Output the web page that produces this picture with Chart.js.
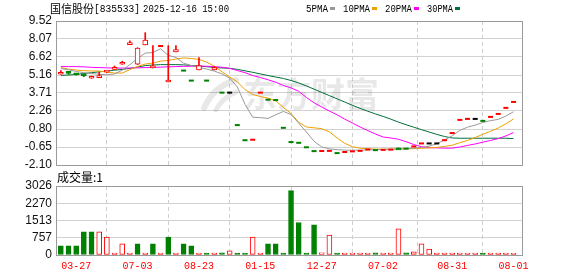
<!DOCTYPE html>
<html><head><meta charset="utf-8">
<script src="https://cdn.jsdelivr.net/npm/chart.js@4.4.1/dist/chart.umd.min.js"></script>
<style>
html,body{margin:0;padding:0;background:#fff;}
#wrap{position:relative;width:578px;height:276px;overflow:hidden;background:#fff;}
#c1{position:absolute;left:0;top:0;}
#c2{position:absolute;left:0;top:160px;}
</style></head><body>
<div id="wrap">
<canvas id="c1" width="578" height="190"></canvas>
<canvas id="c2" width="578" height="116"></canvas>
</div>
<script>
// ---------- data ----------
const stockTitle = '国信股份';
const stockCode = '[835533]';
const stockTime = '2025-12-16 15:00';
const maNames = ['5PMA', '10PMA', '20PMA', '30PMA'];
const volumeTitle = '成交量:1';
const watermarkText = '东方财富';

const xTickIndex = [2, 10, 18, 26, 34, 42, 51, 59];
const xTickLabels = ['03-27', '07-03', '08-23', '01-15', '12-27', '07-02', '08-31', '08-01'];
const priceTicks = [9.52, 8.07, 6.62, 5.16, 3.71, 2.26, 0.80, -0.65, -2.10];
const volumeTicks = [0, 757, 1513, 2270, 3026];

const prevClose = 5.45;
const openP = [5.22,5.40,5.27,5.17,4.90,4.95,5.40,5.62,6.03,7.62, 6.03,7.59,5.74,7.50,4.60,7.02,5.52,4.71,5.57,4.71,
  5.57,3.74,3.74,1.12,-0.10,-0.06,3.74,3.17,3.14,0.90, -0.25,-0.31,-0.67,-0.98,-0.97,-0.96,-1.14,-1.05,-1.00,-0.96,
  -0.85,-0.90,-0.88,-0.86,-0.72,-0.78,-0.60,-0.36,-0.36,-0.36, -0.10,0.48,1.54,1.62,1.62,1.46,1.78,2.02,2.51,2.99];
const highP = [5.52,5.42,5.28,5.18,5.08,5.38,5.50,5.89,6.27,7.92, 7.36,8.58,7.53,7.50,7.53,7.53,5.52,4.71,6.56,4.71,
  5.84,3.74,3.74,1.12,-0.10,-0.06,3.74,3.17,3.14,0.90, -0.25,-0.31,-0.67,-0.98,-0.97,-0.96,-1.14,-1.05,-1.00,-0.96,
  -0.85,-0.90,-0.88,-0.86,-0.72,-0.78,-0.60,-0.36,-0.36,-0.36, -0.10,0.48,1.54,1.62,1.62,1.46,1.78,2.02,2.51,2.99];
const lowP = [5.22,5.22,5.15,5.02,4.90,4.95,5.38,5.62,6.03,7.62, 6.00,7.59,5.74,7.50,4.60,7.02,5.52,4.71,5.57,4.71,
  5.57,3.74,3.74,1.12,-0.10,-0.06,3.74,3.17,3.14,0.90, -0.25,-0.31,-0.67,-0.98,-0.97,-0.96,-1.14,-1.05,-1.00,-0.96,
  -0.85,-0.90,-0.88,-0.86,-0.76,-0.78,-0.60,-0.36,-0.36,-0.36, -0.10,0.48,1.54,1.62,1.62,1.46,1.78,2.02,2.51,2.99];
const closeP = [5.38,5.30,5.17,5.08,5.06,5.08,5.45,5.72,6.13,7.76, 7.34,7.99,5.78,7.50,4.64,7.21,5.52,4.71,5.92,4.71,
  5.76,3.74,3.74,1.12,-0.10,-0.06,3.74,3.17,3.14,0.90, -0.25,-0.31,-0.67,-0.98,-0.97,-0.96,-1.14,-1.05,-1.00,-0.96,
  -0.85,-0.90,-0.88,-0.86,-0.76,-0.78,-0.60,-0.36,-0.36,-0.36, -0.10,0.48,1.54,1.62,1.62,1.46,1.78,2.02,2.51,2.99];
const volume = [405,405,405,1015,1015,1015,785,8,490,8, 490,8,490,8,790,8,490,400,8,8,
  8,95,185,8,8,785,8,490,490,8, 2820,1425,8,1320,100,870,8,8,8,8,
  8,90,8,8,1150,90,140,490,260,8, 8,8,8,8,8,8,8,8,8,1];
const ma5 = [5.68,5.58,5.45,5.35,5.28,5.22,5.18,5.25,5.55,6.00, 6.49,6.93,6.98,7.28,6.75,6.58,6.12,5.92,5.78,5.64,
  5.48,5.25,4.92,4.20,2.80,1.76,1.72,1.66,1.95,2.22, 1.98,1.28,0.56,-0.18,-0.64,-0.80,-0.86,-0.90,-0.91,-0.90,
  -0.88,-0.86,-0.84,-0.82,-0.80,-0.78,-0.74,-0.68,-0.58,-0.38, -0.08,0.25,0.70,0.95,1.12,1.33,1.48,1.58,1.85,2.20];
const ma10 = [5.76,5.64,5.56,5.51,5.49,5.48,5.40,5.32,5.32,5.60, 5.85,6.05,6.12,6.28,6.34,6.45,6.54,6.50,6.42,6.20,
  5.88,5.42,5.00,4.62,3.98,3.60,3.42,3.30,3.08,2.55, 2.05,1.35,0.97,0.90,0.83,0.58,0.08,-0.35,-0.62,-0.74,
  -0.79,-0.82,-0.83,-0.83,-0.82,-0.80,-0.78,-0.75,-0.72,-0.68, -0.60,-0.50,-0.30,-0.12,0.12,0.38,0.62,0.88,1.22,1.62];
const ma20 = [5.84,5.84,5.84,5.82,5.78,5.76,5.74,5.72,5.72,5.72, 5.74,5.76,5.78,5.80,5.82,5.84,5.86,5.87,5.88,5.87,
  5.84,5.79,5.70,5.52,5.35,5.12,4.96,4.78,4.58,4.32, 4.12,3.85,3.35,2.92,2.58,2.25,1.95,1.60,1.28,0.97,
  0.68,0.40,0.16,0.08,-0.02,-0.22,-0.45,-0.62,-0.70,-0.72, -0.74,-0.74,-0.65,-0.52,-0.40,-0.26,-0.12,0.03,0.25,0.52];
const ma30 = [5.13,5.16,5.21,5.28,5.35,5.42,5.48,5.55,5.61,5.70, 5.80,5.92,5.97,6.00,6.00,6.00,5.98,5.93,5.88,5.83,
  5.77,5.73,5.70,5.62,5.50,5.38,5.25,5.12,5.00,4.88, 4.72,4.52,4.28,4.02,3.76,3.50,3.24,2.98,2.72,2.47,
  2.24,2.02,1.82,1.60,1.36,1.15,0.95,0.75,0.56,0.37, 0.20,0.08,0.06,0.06,0.06,0.06,0.06,0.06,0.06,0.03];

// ---------- styles ----------
const RED = '#ff0000', GREEN = '#008000', BLACK = '#000000';
const maColors = ['#999999', '#f0a000', '#ff00ff', '#006f3a'];
const FRAME = '#9a9a9a', HGRID = '#d2d2d2', VGRID = '#cfcfcf';

function pc(i) { return i === 0 ? prevClose : closeP[i - 1]; }
function candleColor(i) {
  if (closeP[i] > openP[i]) return RED;
  if (closeP[i] < openP[i]) return GREEN;
  if (closeP[i] > pc(i)) return RED;
  if (closeP[i] < pc(i)) return GREEN;
  return BLACK;
}
function volUp(i) { return closeP[i] >= pc(i); }

const idx = openP.map((_, i) => i);
const bodyIdx = idx.filter(i => openP[i] !== closeP[i] || highP[i] !== lowP[i]);
const dashIdx = idx.filter(i => !(openP[i] !== closeP[i] || highP[i] !== lowP[i]));

const framePlugin = {
  id: 'frame',
  afterDraw(chart) {
    const {ctx, chartArea: a} = chart;
    ctx.save();
    ctx.strokeStyle = FRAME; ctx.lineWidth = 1;
    const x1 = Math.round(a.left) - 0.5, x2 = Math.round(a.right) + 0.5;
    const y1 = Math.round(a.top) + 0.5, y2 = Math.round(a.bottom) + 0.5;
    ctx.strokeRect(x1, y1, x2 - x1, y2 - y1);
    ctx.restore();
  }
};

const watermarkPlugin = {
  id: 'wm',
  beforeDatasetsDraw(chart) {
    const ctx = chart.ctx;
    ctx.save();
    ctx.fillStyle = 'rgba(0,0,0,0.09)';
    ctx.strokeStyle = 'rgba(0,0,0,0.09)';
    // logo strokes
    ctx.lineCap = 'round';
    ctx.lineWidth = 6;
    ctx.beginPath(); ctx.moveTo(236, 80); ctx.quadraticCurveTo(214, 86, 204, 108); ctx.stroke();
    ctx.lineWidth = 5;
    ctx.beginPath(); ctx.moveTo(236, 92); ctx.quadraticCurveTo(222, 98, 216, 110); ctx.stroke();
    ctx.font = 'bold 34px "Noto Sans CJK SC"';
    ctx.textBaseline = 'middle';
    ctx.fillText(watermarkText, 243, 94, 138);
    ctx.restore();
  }
};

const headerPlugin = {
  id: 'header',
  afterDraw(chart) {
    const ctx = chart.ctx;
    ctx.save();
    ctx.fillStyle = '#000';
    ctx.textBaseline = 'middle';
    ctx.font = '11px "Noto Sans CJK SC"';
    ctx.fillText(stockTitle, 50, 9, 45);
    ctx.font = '11px "Liberation Mono"';
    ctx.fillText(stockCode, 94, 9, 46);
    ctx.fillText(stockTime, 143, 9, 86);
    const lx = [306, 343, 385, 427], lw = [22, 27, 27, 26];
    maNames.forEach((n, k) => {
      ctx.fillStyle = '#000';
      ctx.font = '11px "Liberation Mono"';
      ctx.fillText(n, lx[k], 9, lw[k]);
      ctx.fillStyle = maColors[k];
      ctx.fillRect(lx[k] + lw[k] + 2, 7, 5, 3);
    });
    ctx.restore();
  }
};

const volTitlePlugin = {
  id: 'voltitle',
  afterDraw(chart) {
    const ctx = chart.ctx;
    ctx.save();
    ctx.fillStyle = '#000';
    ctx.textBaseline = 'middle';
    ctx.font = '12px "Noto Sans CJK SC"';
    ctx.fillText(volumeTitle, 57, 17, 48);
    ctx.restore();
  }
};

const xScaleBase = {
  type: 'linear', min: -0.5, max: 60.1, offset: false,
  afterBuildTicks: s => { s.ticks = xTickIndex.map(v => ({value: v})); },
  grid: { color: VGRID, lineWidth: 1, drawTicks: false },
  border: { display: false, dash: [4, 3] }
};

const axisFont = { family: 'Liberation Sans', size: 12 };

// ---------- price chart ----------
new Chart(document.getElementById('c1'), {
  type: 'bar',
  data: {
    datasets: [
      { type: 'line', order: 0, data: dashIdx.map(i => ({x: i, y: closeP[i]})), showLine: false,
        pointStyle: 'line', pointRadius: 2.5, pointBorderWidth: 2,
        pointBorderColor: c => candleColor(c.raw.x), pointBackgroundColor: c => candleColor(c.raw.x) },
      { type: 'bar', order: 1, data: bodyIdx.map(i => ({x: i, y: [openP[i], closeP[i]]})),
        barThickness: 5, minBarLength: 2, grouped: false, borderSkipped: false, borderWidth: 1,
        borderColor: c => candleColor(c.raw.x),
        backgroundColor: c => closeP[c.raw.x] > openP[c.raw.x] ? '#ffffff' : candleColor(c.raw.x) },
      { type: 'bar', order: 2, data: bodyIdx.map(i => ({x: i, y: [lowP[i], highP[i]]})),
        barThickness: 1, grouped: false, borderWidth: 0, borderSkipped: false,
        backgroundColor: c => candleColor(c.raw.x) },
      { type: 'line', order: 3, data: ma5.map((v, i) => ({x: i, y: v})), borderColor: maColors[0], borderWidth: 1, pointRadius: 0, tension: 0 },
      { type: 'line', order: 4, data: ma10.map((v, i) => ({x: i, y: v})), borderColor: maColors[1], borderWidth: 1, pointRadius: 0, tension: 0 },
      { type: 'line', order: 5, data: ma20.map((v, i) => ({x: i, y: v})), borderColor: maColors[2], borderWidth: 1, pointRadius: 0, tension: 0 },
      { type: 'line', order: 6, data: ma30.map((v, i) => ({x: i, y: v})), borderColor: maColors[3], borderWidth: 1, pointRadius: 0, tension: 0 }
    ]
  },
  options: {
    responsive: false, animation: false, events: [],
    layout: { padding: { top: 21, right: 56, bottom: 25, left: 0 } },
    plugins: { legend: { display: false }, tooltip: { enabled: false } },
    scales: {
      x: Object.assign({}, xScaleBase, {
        ticks: { display: false },
        afterFit: s => { s.height = 0; }
      }),
      y: {
        min: -2.10, max: 9.52,
        afterBuildTicks: s => { s.ticks = priceTicks.map(v => ({value: v})); },
        afterFit: s => { s.width = 57; },
        ticks: { callback: v => v.toFixed(2), font: axisFont, color: '#111', padding: 5, autoSkip: false },
        grid: { color: HGRID, drawTicks: false },
        border: { display: false }
      }
    }
  },
  plugins: [watermarkPlugin, framePlugin, headerPlugin]
});

// ---------- volume chart ----------
new Chart(document.getElementById('c2'), {
  type: 'bar',
  data: {
    datasets: [
      { data: volume.map((v, i) => ({x: i, y: v})), barThickness: 5, minBarLength: 2, grouped: false,
        borderSkipped: false, borderWidth: 1,
        borderColor: c => volUp(c.raw.x) ? RED : GREEN,
        backgroundColor: c => volUp(c.raw.x) ? '#ffffff' : GREEN }
    ]
  },
  options: {
    responsive: false, animation: false, events: [],
    layout: { padding: { top: 26, right: 56, bottom: 0, left: 0 } },
    plugins: { legend: { display: false }, tooltip: { enabled: false } },
    scales: {
      x: Object.assign({}, xScaleBase, {
        ticks: { callback: (v, k) => xTickLabels[k], font: { family: 'Liberation Mono', size: 10 },
                 color: RED, padding: 5, maxRotation: 0, autoSkip: false },
        afterFit: s => { s.height = 21; }
      }),
      y: {
        min: 0, max: 3026,
        afterBuildTicks: s => { s.ticks = volumeTicks.map(v => ({value: v})); },
        afterFit: s => { s.width = 57; },
        ticks: { callback: v => String(v), font: axisFont, color: '#111', padding: 5, autoSkip: false },
        grid: { color: HGRID, drawTicks: false },
        border: { display: false }
      }
    }
  },
  plugins: [framePlugin, volTitlePlugin]
});
</script>
</body></html>
